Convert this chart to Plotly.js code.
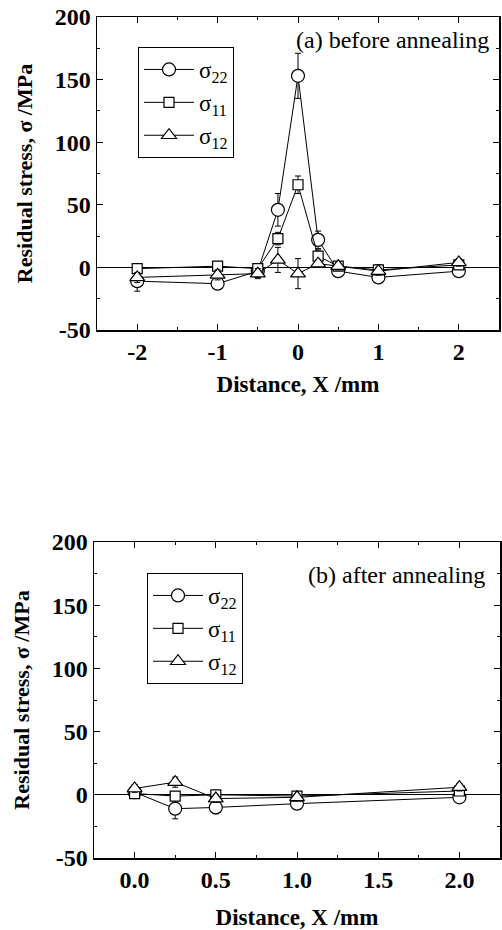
<!DOCTYPE html>
<html>
<head>
<meta charset="utf-8">
<script src="https://cdn.plot.ly/plotly-3.0.1.min.js"></script>
<style>html,body{margin:0;padding:0;background:#fff;}#chart{width:502px;height:930px;}</style>
</head>
<body>
<div id="chart"></div>
<script>
// ---- data: (a) before annealing ----
const xA = [-2, -1, -0.5, -0.25, 0, 0.25, 0.5, 1, 2];
const s22A = [-11, -13, -3, 46, 153, 22, -3, -8, -3];
const s22AErr = [8, 3, 4, 13, 18, 7, 3, 4, 4];
const s11A = [-1, 1, -1, 23, 66, 9, 1, -2, 2];
const s11AErr = [3, 3, 4, 5, 7, 5, 3, 4, 3];
const s12A = [-8, -6, -5, 6, -5, 3, 1, -3, 4];
const s12AErr = [4, 4, 4, 10, 12, 3, 3, 3, 3];

// ---- data: (b) after annealing ----
const xB = [0, 0.25, 0.5, 1, 2];
const s22B = [2, -11, -10, -7, -2];
const s22BErr = [3, 8, 5, 4, 3];
const s11B = [1, -1, 0, -1, 3];
const s11BErr = [2, 2, 2, 2, 2];
const s12B = [5, 10, -3, -2, 6];
const s12BErr = [3, 4, 3, 2, 3];

const seriesNames = ['σ<sub>22</sub>', 'σ<sub>11</sub>', 'σ<sub>12</sub>'];
const symbols = ['circle', 'square', 'triangle-up'];
const sizes = [13, 10, 13];

// tick labels
const xTickValsA = [-2, -1, 0, 1, 2];
const xTickTextA = ['-2', '-1', '0', '1', '2'];
const xTickValsB = [0, 0.5, 1, 1.5, 2];
const xTickTextB = ['0.0', '0.5', '1.0', '1.5', '2.0'];
const yTickVals = [-50, 0, 50, 100, 150, 200];
const yTickText = ['-50', '0', '50', '100', '150', '200'];

const panelText = ['(a) before annealing', '(b) after annealing'];
const xTitle = 'Distance, X /mm';
const yTitle = 'Residual stress, σ /MPa';

const serif = 'Liberation Serif, Times New Roman, serif';

function mk(x, y, err, i, xa, ya, leg) {
  return {
    x: x, y: y, type: 'scatter', mode: 'lines+markers',
    name: seriesNames[i], legend: leg, xaxis: xa, yaxis: ya,
    line: {color: '#000', width: 1},
    marker: {symbol: symbols[i], size: sizes[i], color: '#fff', line: {color: '#000', width: 1.2}},
    error_y: {type: 'data', array: err, visible: true, color: '#000', thickness: 1, width: 3},
    cliponaxis: false
  };
}

const data = [
  mk(xA, s22A, s22AErr, 0, 'x', 'y', 'legend'),
  mk(xA, s11A, s11AErr, 1, 'x', 'y', 'legend'),
  mk(xA, s12A, s12AErr, 2, 'x', 'y', 'legend'),
  mk(xB, s22B, s22BErr, 0, 'x2', 'y2', 'legend2'),
  mk(xB, s11B, s11BErr, 1, 'x2', 'y2', 'legend2'),
  mk(xB, s12B, s12BErr, 2, 'x2', 'y2', 'legend2')
];

const tickFont = {family: serif, size: 24, color: '#000', weight: 'bold'};
const xTitleFont = {family: serif, size: 23, color: '#000', weight: 'bold'};
const yTitleFont = {family: serif, size: 22, color: '#000', weight: 'bold'};

function xaxis(range, tv, tt, minorDt, domain, anchor, standoff) {
  return {
    domain: domain, anchor: anchor, range: range,
    tickmode: 'array', tickvals: tv, ticktext: tt,
    ticks: 'inside', ticklen: 6, tickwidth: 1, tickcolor: '#000',
    minor: {dtick: minorDt, ticks: 'inside', ticklen: 3, tickcolor: '#000', tickwidth: 1},
    showline: true, linecolor: '#000', linewidth: 1.5, mirror: 'allticks',
    showgrid: false, zeroline: false,
    tickfont: tickFont,
    title: {text: xTitle, font: xTitleFont, standoff: standoff}
  };
}
function yaxis(domain, anchor) {
  return {
    domain: domain, anchor: anchor, range: [-50, 200],
    tickmode: 'array', tickvals: yTickVals, ticktext: yTickText,
    ticks: 'inside', ticklen: 6, tickwidth: 1, tickcolor: '#000',
    minor: {dtick: 25, ticks: 'inside', ticklen: 3, tickcolor: '#000', tickwidth: 1},
    showline: true, linecolor: '#000', linewidth: 1.5, mirror: 'allticks',
    showgrid: false, zeroline: true, zerolinecolor: '#000', zerolinewidth: 1,
    tickfont: tickFont,
    title: {text: yTitle, font: yTitleFont, standoff: 16}
  };
}

const legendBase = {
  xanchor: 'left', yanchor: 'top',
  bgcolor: '#fff', bordercolor: '#000', borderwidth: 1,
  font: {family: serif, size: 23, color: '#000'},
  itemwidth: 50, traceorder: 'normal'
};

const layout = {
  width: 502, height: 930,
  margin: {l: 0, r: 0, t: 0, b: 0},
  paper_bgcolor: '#fff', plot_bgcolor: '#fff',
  showlegend: true,
  xaxis: xaxis([-2.5, 2.5], xTickValsA, xTickTextA, 0.5, [97/502, 499/502], 'y', 11),
  yaxis: yaxis([1 - 330/930, 1 - 17/930], 'x'),
  xaxis2: xaxis([-0.25, 2.25], xTickValsB, xTickTextB, 0.25, [94/502, 500/502], 'y2', 17),
  yaxis2: yaxis([1 - 858/930, 1 - 542/930], 'x2'),
  legend: Object.assign({}, legendBase, {x: 138/502, y: 1 - 47/930}),
  legend2: Object.assign({}, legendBase, {x: 147/502, y: 1 - 573/930}),
  annotations: [
    {text: panelText[0], xref: 'paper', yref: 'paper', x: 491/502, y: 1 - 40/930,
     xanchor: 'right', yanchor: 'middle', showarrow: false,
     font: {family: serif, size: 24, color: '#000'}},
    {text: panelText[1], xref: 'paper', yref: 'paper', x: 487/502, y: 1 - 575/930,
     xanchor: 'right', yanchor: 'middle', showarrow: false,
     font: {family: serif, size: 24, color: '#000'}}
  ]
};

Plotly.newPlot('chart', data, layout, {staticPlot: true});
</script>
</body>
</html>
